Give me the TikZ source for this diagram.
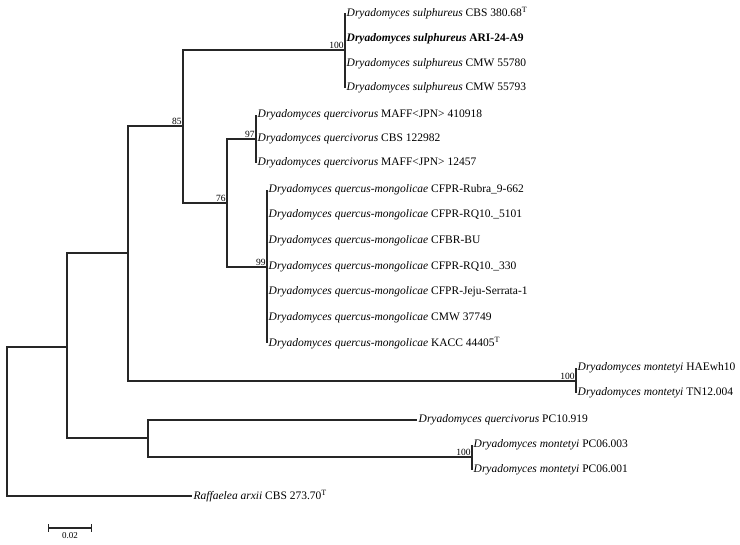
\documentclass[tikz,border=0pt]{standalone}
\usepackage{fontspec}
\setmainfont{Liberation Serif}
\usepackage{tikz}
\usetikzlibrary{positioning}
\tikzstyle{taxon} = [anchor=west, inner sep=1.5pt, font=\fontsize{11.5}{13}\selectfont]
\tikzstyle{support} = [anchor=south east, inner sep=1.2pt, font=\fontsize{9.5}{11}\selectfont]
\tikzstyle{branch} = [line width=1.2pt, draw=black!85]
\newcommand{\Dry}[1]{\textit{Dryadomyces #1}}

\begin{document}
\begin{tikzpicture}[x=1pt, y=-1pt]
            \useasboundingbox (0,0) rectangle (740,545);
            \coordinate (root) at (7,421);
            \coordinate (node_b) at (67,347);
            \coordinate (node_a) at (128,253);
            \coordinate (node_85) at (183,126);
            \coordinate (sulph) at (345,50);
            \coordinate (node_76) at (227,203);
            \coordinate (querc) at (256,139);
            \coordinate (mongol) at (267,267);
            \coordinate (mont_a) at (576,381);
            \coordinate (node_c) at (148,438);
            \coordinate (mont_b) at (472,457);

            \node (sulph_1) [taxon] at (345,13) {\Dry{sulphureus} CBS 380.68\textsuperscript{T}};
            \node (sulph_2) [taxon] at (345,39) {\textbf{\Dry{sulphureus} ARI-24-A9}};
            \node (sulph_3) [taxon] at (345,64) {\Dry{sulphureus} CMW 55780};
            \node (sulph_4) [taxon] at (345,88) {\Dry{sulphureus} CMW 55793};
            \node (querc_1) [taxon] at (256,115) {\Dry{quercivorus} MAFF\textless JPN\textgreater{} 410918};
            \node (querc_2) [taxon] at (256,139) {\Dry{quercivorus} CBS 122982};
            \node (querc_3) [taxon] at (256,163) {\Dry{quercivorus} MAFF\textless JPN\textgreater{} 12457};
            \node (mongol_1) [taxon] at (267,190) {\Dry{quercus-mongolicae} CFPR-Rubra\_9-662};
            \node (mongol_2) [taxon] at (267,215) {\Dry{quercus-mongolicae} CFPR-RQ10.\_5101};
            \node (mongol_3) [taxon] at (267,241) {\Dry{quercus-mongolicae} CFBR-BU};
            \node (mongol_4) [taxon] at (267,267) {\Dry{quercus-mongolicae} CFPR-RQ10.\_330};
            \node (mongol_5) [taxon] at (267,292) {\Dry{quercus-mongolicae} CFPR-Jeju-Serrata-1};
            \node (mongol_6) [taxon] at (267,318) {\Dry{quercus-mongolicae} CMW 37749};
            \node (mongol_7) [taxon] at (267,343) {\Dry{quercus-mongolicae} KACC 44405\textsuperscript{T}};
            \node (mont_a1) [taxon] at (576,368) {\Dry{montetyi} HAEwh10};
            \node (mont_a2) [taxon] at (576,393) {\Dry{montetyi} TN12.004};
            \node (pc10) [taxon] at (417,420) {\Dry{quercivorus} PC10.919};
            \node (mont_b1) [taxon] at (472,445) {\Dry{montetyi} PC06.003};
            \node (mont_b2) [taxon] at (472,470) {\Dry{montetyi} PC06.001};
            \node (raff) [taxon] at (192,496) {\textit{Raffaelea arxii} CBS 273.70\textsuperscript{T}};

            \draw [branch] (root) |- (node_b);
            \draw [branch] (root) |- (raff.west);
            \draw [branch] (node_b) |- (node_a);
            \draw [branch] (node_b) |- (node_c);
            \draw [branch] (node_a) |- (node_85);
            \draw [branch] (node_a) |- (mont_a);
            \draw [branch] (node_85) |- (sulph);
            \draw [branch] (node_85) |- (node_76);
            \draw [branch] (node_76) |- (querc);
            \draw [branch] (node_76) |- (mongol);
            \draw [branch] (sulph) |- (sulph_1.west);
            \draw [branch] (sulph) |- (sulph_4.west);
            \draw [branch] (querc) |- (querc_1.west);
            \draw [branch] (querc) |- (querc_3.west);
            \draw [branch] (mongol) |- (mongol_1.west);
            \draw [branch] (mongol) |- (mongol_7.west);
            \draw [branch] (mont_a) |- (mont_a1.west);
            \draw [branch] (mont_a) |- (mont_a2.west);
            \draw [branch] (node_c) |- (pc10.west);
            \draw [branch] (node_c) |- (mont_b);
            \draw [branch] (mont_b) |- (mont_b1.west);
            \draw [branch] (mont_b) |- (mont_b2.west);

            \node [support] at (sulph) {100};
            \node [support] at (node_85) {85};
            \node [support] at (querc) {97};
            \node [support] at (node_76) {76};
            \node [support] at (mongol) {99};
            \node [support] at (mont_a) {100};
            \node [support] at (mont_b) {100};

            \coordinate (bar_l) at (48,528);
            \coordinate (bar_r) at (92,528);
            \draw [branch, |-|] (bar_l) -- node[below=1pt, font=\fontsize{9}{10}\selectfont]{0.02} (bar_r);
            \end{tikzpicture}
\end{document}
